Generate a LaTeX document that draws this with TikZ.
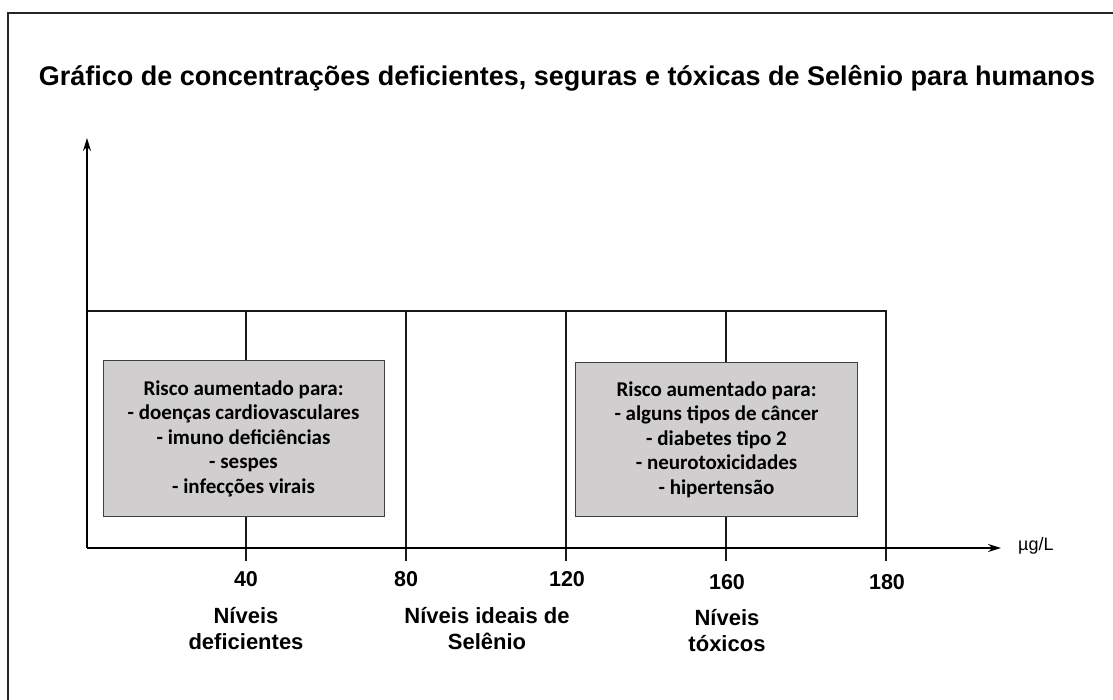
\documentclass[tikz,border=0pt]{standalone}
\usepackage{fontspec}
\setmainfont{Liberation Sans}
\newfontfamily\carlito{Carlito}
\usetikzlibrary{arrows.meta}
\definecolor{boxgray}{RGB}{208,206,206}
\begin{document}
\begin{tikzpicture}[x=1pt,y=-1pt,
  frameline/.style={line width=1.4pt, black!85},
  axisline/.style={line width=1.8pt, black, -{Stealth[length=13pt,width=8pt]}},
  rangeline/.style={line width=1.3pt, black!90},
  riskbox/.style={draw=black!75, line width=1pt, fill=boxgray, minimum width=281pt, minimum height=156pt, align=center, inner sep=0pt, font=\carlito\bfseries\fontsize{21}{24.5}\selectfont},
  ticklabel/.style={font=\bfseries\fontsize{21.5}{24}\selectfont, inner sep=0pt},
  catlabel/.style={font=\bfseries\fontsize{22}{26}\selectfont, align=center, inner sep=0pt},
  titlelabel/.style={font=\bfseries\fontsize{27}{30}\selectfont, inner sep=0pt}
]
\useasboundingbox (0,0) rectangle (1113,700);
% outer frame (top and left only)
\draw[frameline] (1113,13) -- (8,13) -- (8,700);
% title
\node[titlelabel] (title) at (567,78) {Gráfico de concentrações deficientes, seguras e tóxicas de Selênio para humanos};
% coordinates
\coordinate (o) at (87,548);
\coordinate (ytip) at (87,138);
\coordinate (xtip) at (1001,548);
\foreach \n/\x in {a/246,b/406,c/566,d/726,e/886}{
  \coordinate (top\n) at (\x,311);
  \coordinate (ax\n) at (\x,548);
  \coordinate (tk\n) at (\x,561);
}
\coordinate (topo) at (87,311);
% range box and division lines
\draw[rangeline] (topo) -- (tope) -- (axe);
\foreach \n in {a,b,c,d}{ \draw[rangeline] (top\n) -- (tk\n); }
\draw[rangeline] (axe) -- (tke);
% axes
\draw[axisline] (o) -- (ytip);
\draw[axisline] (o) -- (xtip);
\node[anchor=west, font=\fontsize{18}{20}\selectfont, inner sep=0pt] (unit) at (1018,546) {µg/L};
% risk boxes
\node[riskbox] (riskleft) at (243.5,438.5) {Risco aumentado para:\\- doenças cardiovasculares\\- imuno deficiências\\- sespes\\- infecções virais};
\node[riskbox, minimum height=154pt, minimum width=282pt] (riskright) at (716.5,439.5) {Risco aumentado para:\\- alguns tipos de câncer\\- diabetes tipo 2\\- neurotoxicidades\\- hipertensão};
% tick labels
\node[ticklabel] (l40) at (246,579) {40};
\node[ticklabel] (l80) at (406,579) {80};
\node[ticklabel] (l120) at (567,579) {120};
\node[ticklabel] (l160) at (727,582) {160};
\node[ticklabel] (l180) at (887,582) {180};
% category labels
\node[catlabel] (cdef) at (246,629) {Níveis\\deficientes};
\node[catlabel] (cideal) at (487,629) {Níveis ideais de\\Selênio};
\node[catlabel] (ctox) at (727,631) {Níveis\\tóxicos};
\end{tikzpicture}
\end{document}
